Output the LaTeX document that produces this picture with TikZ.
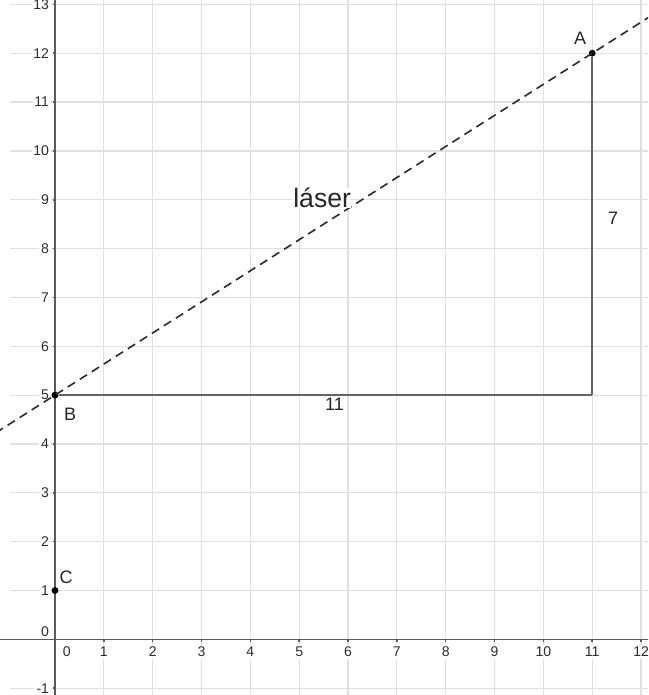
\documentclass[tikz,border=0pt]{standalone}
\usepackage{fontspec}
\setmainfont{Liberation Sans}
\usetikzlibrary{calc}
\definecolor{grisGrille}{RGB}{224, 224, 224}
\definecolor{grisAxe}{RGB}{90, 90, 90}
\definecolor{grisSeg}{RGB}{100, 100, 100}
\definecolor{grisTexte}{RGB}{45, 45, 45}
\definecolor{noirLaser}{RGB}{45, 45, 45}

\begin{document}
\begin{tikzpicture}[
  grille/.style={draw=grisGrille, line width=0.7pt},
  axe/.style={draw=grisAxe, line width=0.9pt},
  seg/.style={draw=grisSeg, line width=1.3pt},
  laser/.style={draw=noirLaser, line width=0.95pt, dash pattern=on 5pt off 3.3pt},
  pt/.style={circle, fill=black, inner sep=0pt, minimum size=4pt},
  grad/.style={font=\fontsize{8.2}{9}\selectfont, text=grisTexte,
    fill=white, inner sep=1pt},
  lbl/.style={font=\fontsize{10.5}{12}\selectfont, text=black!85},
]
\useasboundingbox (-1.126,-1.14) rectangle (12.144,13.09);
\clip (-1.126,-1.14) rectangle (12.144,13.09);
% quadrillage
\foreach \x in {1,...,12}
  \draw[grille] (\x,-1.2) -- (\x,13.2);
\foreach \y in {-1,...,13}
  \draw[grille] (-0.92,\y) -- (12.2,\y);
% graduations
\foreach \x in {1,...,12}
  \node[grad] (gx\x) at (\x,-0.26) {\x};
\node[grad] (gx0) at (0.24,-0.26) {0};
\foreach \y in {-1,1,2,...,13}
  \node[grad, anchor=east] (gy\y) at (-0.08,\y) {\y};
\node[grad, anchor=east] (gy0) at (-0.08,0.16) {0};
% axes
\draw[axe] (-1.2,0) -- (12.2,0);
\draw[axe] (0,-1.2) -- (0,13.2);
\foreach \x in {1,...,12}
  \draw[axe] (\x,0) -- (\x,-0.05);
\foreach \y in {-1,1,2,...,13}
  \draw[axe] (0,\y) -- (-0.05,\y);
% points
\node[pt] (A) at (11,12) {};
\node[pt] (B) at (0,5) {};
\node[pt] (C) at (0,1) {};
\coordinate (D) at (11,5);
\node[lbl] (labA) at (10.75,12.3) {A};
\node[lbl] (labB) at (0.31,4.6) {B};
\node[lbl] (labC) at (0.23,1.26) {C};
% triangle
\draw[seg] (B) -- (D)
  node[lbl, pos=0.517, yshift=-0.18cm] {11};
\draw[seg] (D) -- (A)
  node[lbl, pos=0.524, xshift=0.43cm] {7};
\draw[laser] ($(B)!-0.2!(A)$) -- ($(A)!-0.2!(B)$);
\node[font=\fontsize{15.5}{17}\selectfont, text=black!85, fill=white,
  inner sep=0pt] (laser) at (5.47,9.04) {láser};
\end{tikzpicture}
\end{document}
